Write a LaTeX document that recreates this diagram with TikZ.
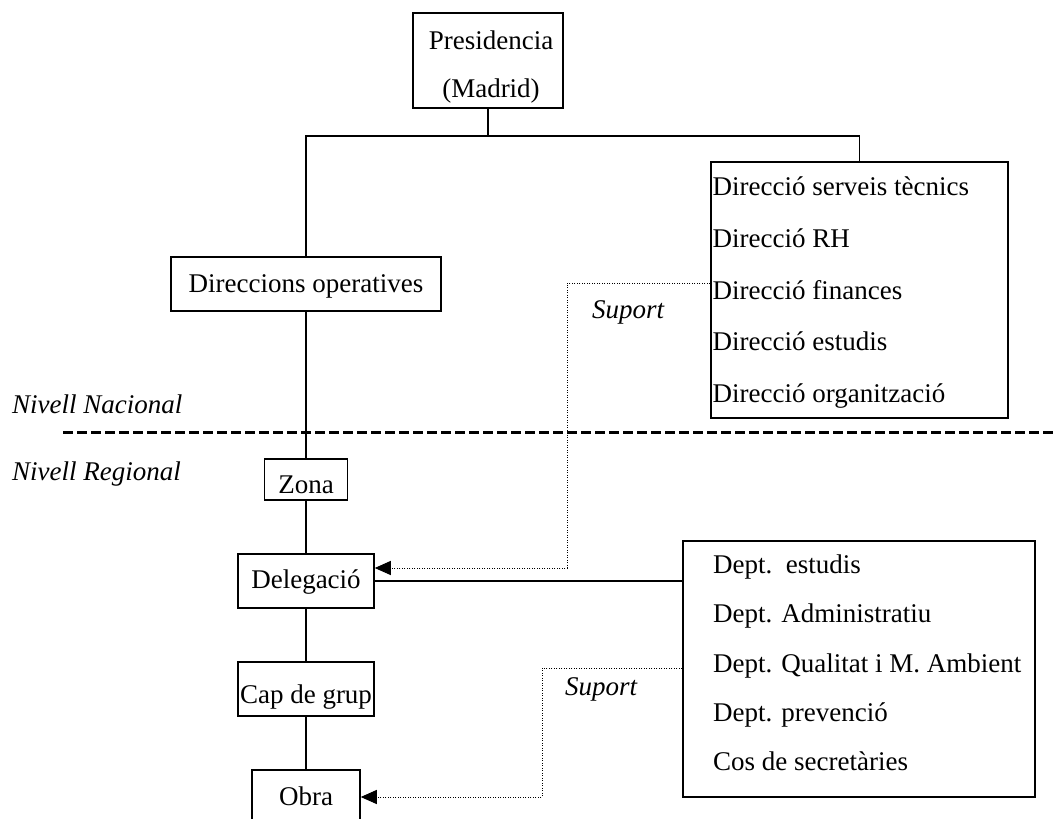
\documentclass[tikz,border=0pt]{standalone}
\usepackage{fontspec}
\setmainfont{Liberation Serif}
\usetikzlibrary{arrows.meta,calc}
\begin{document}
\begin{tikzpicture}[x=1pt,y=-1pt,
  every node/.style={font=\fontsize{27}{32}\selectfont, inner sep=0pt},
  orgbox/.style={draw, line width=1.5pt, text depth=0pt, minimum height=54pt},
  link/.style={line width=1.5pt},
  support/.style={line width=1pt, dash pattern=on 1pt off 1.5pt,
    -{Triangle[length=16pt,width=14pt]}},
  listtext/.style={anchor=base west},
  plaintext/.style={anchor=base},
  levellabel/.style={anchor=base west, font=\fontsize{27}{32}\selectfont\itshape},
  ]
\fill[white] (0,0) rectangle (1053,819);
\useasboundingbox (0,0) rectangle (1053,819);
\clip (0,0) rectangle (1053,819);

% head office
\node[orgbox, minimum width=150pt, minimum height=95pt] (pres) at (488,60.5) {};
\node[plaintext] (pres1) at (491,49) {Presidencia};
\node[plaintext] (pres2) at (491,97) {(Madrid)};

% national level
\node[orgbox, minimum width=270pt, text height=16pt] (dirop) at (306,284) {Direccions operatives};
\node[orgbox, minimum width=297pt, minimum height=256pt] (dirs) at (859.5,290) {};
\node[listtext] (d1) at (712.5,195) {Direcció serveis tècnics};
\node[listtext] (d2) at (712.5,247) {Direcció RH};
\node[listtext] (d3) at (712.5,299) {Direcció finances};
\node[listtext] (d4) at (712.5,350) {Direcció estudis};
\node[listtext] (d5) at (712.5,402) {Direcció organització};

% regional level
\node[orgbox, minimum width=83pt, minimum height=41pt, text height=27pt] (zona) at (306,479.5) {Zona};
\node[orgbox, minimum width=136pt, text height=14pt] (dele) at (306,581) {Delegació};
\node[orgbox, minimum width=136pt, text height=28pt] (cap) at (306,689) {Cap de grup};
\node[orgbox, minimum width=108pt, text height=16pt] (obra) at (306,797) {Obra};
\node[orgbox, minimum width=352pt, minimum height=256pt] (dept) at (859,669) {};
\node[listtext] (e1) at (713,573) {Dept.\ \ estudis};
\node[listtext] (e2) at (713,622) {Dept. Administratiu};
\node[listtext] (e3) at (713,672) {Dept. Qualitat i M. Ambient};
\node[listtext] (e4) at (713,721) {Dept. prevenció};
\node[listtext] (e5) at (713,770) {Cos de secretàries};

% level labels and divider
\node[levellabel] (nac) at (12,413) {Nivell Nacional};
\node[levellabel] (reg) at (12,480) {Nivell Regional};
\coordinate (divL) at (63,432);
\coordinate (divR) at (1060,432);
\draw[line width=3pt, dash pattern=on 9.5pt off 4.5pt] (divL) -- (divR);

% hierarchy lines
\coordinate (split) at (488,136);
\draw[link] (pres.south) -- (split);
\draw[link] (dirop.north) |- (split) -| (dirs.north);
\draw[link] (dirop.south) -- (zona.north);
\draw[link] (zona.south) -- (dele.north);
\draw[link] (dele.south) -- (cap.north);
\draw[link] (cap.south) -- (obra.north);
\draw[link] (dele.east) -- (dele.east -| dept.west);

% support links
\coordinate (up1) at (567,283);
\coordinate (up2) at (567,568);
\draw[support] (dirs.west |- up1) -- (up1) -- (up2) -- (dele.east |- up2);
\node[levellabel] (sup1) at (592,318) {Suport};

\coordinate (lo1) at (542,668);
\coordinate (lo2) at (542,797);
\draw[support] (dept.west |- lo1) -- (lo1) -- (lo2) -- (obra.east |- lo2);
\node[levellabel] (sup2) at (565,695) {Suport};
\end{tikzpicture}
\end{document}
